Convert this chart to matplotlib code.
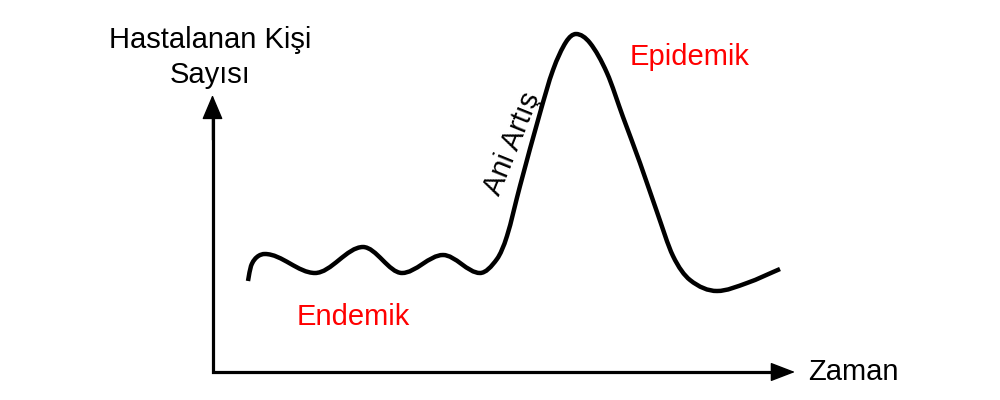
import numpy as np
import matplotlib.pyplot as plt
from matplotlib.path import Path
from matplotlib.patches import PathPatch

plt.rcParams['font.family'] = ['Liberation Sans', 'DejaVu Sans']

# Sketch curve (x = time, y = level, pixel units, y grows down)
curve_x = [248, 251, 257, 265, 315, 363, 402, 443, 480, 497, 507, 520, 540, 553,
           566, 576, 590, 607, 623, 640, 657, 673, 690, 717, 747, 780]
curve_y = [281, 266, 257, 254, 273, 247, 273, 255, 273, 259, 236, 186, 113, 70,
           42, 34, 43, 73, 117, 163, 212, 256, 280, 291, 283, 269]

y_label = ['Hastalanan Kişi', 'Sayısı']
x_label = 'Zaman'
low_label = 'Endemik'
high_label = 'Epidemik'
rise_label = 'Ani Artış'


def smooth_path(xs, ys):
    # cubic hermite through the points (flat at turning points), as bezier segments
    x = np.asarray(xs, float)
    y = np.asarray(ys, float)
    h = np.diff(x)
    d = np.diff(y) / h
    m = np.zeros_like(x)
    m[0], m[-1] = d[0], d[-1]
    for k in range(1, len(x) - 1):
        if d[k - 1] * d[k] > 0:
            m[k] = (y[k + 1] - y[k - 1]) / (x[k + 1] - x[k - 1])
    verts = [(x[0], y[0])]
    codes = [Path.MOVETO]
    for k in range(len(x) - 1):
        verts += [(x[k] + h[k] / 3, y[k] + m[k] * h[k] / 3),
                  (x[k + 1] - h[k] / 3, y[k + 1] - m[k + 1] * h[k] / 3),
                  (x[k + 1], y[k + 1])]
        codes += [Path.CURVE4] * 3
    return Path(verts, codes)


fig = plt.figure(figsize=(10, 4), dpi=100)
ax = fig.add_axes([0, 0, 1, 1])
ax.set_xlim(0, 1000)
ax.set_ylim(400, 0)
ax.axis('off')

# axes with arrow heads
ax.plot([212.5, 212.5, 775], [110, 372, 372], color='black', lw=2.3,
        solid_joinstyle='miter', solid_capstyle='butt')
ax.annotate('', xy=(212.5, 95), xytext=(212.5, 140),
            arrowprops=dict(arrowstyle='-|>,head_length=1.3,head_width=0.55',
                            color='black', lw=1, mutation_scale=12,
                            shrinkA=0, shrinkB=0))
ax.annotate('', xy=(795, 372), xytext=(750, 372),
            arrowprops=dict(arrowstyle='-|>,head_length=1.3,head_width=0.5',
                            color='black', lw=1, mutation_scale=12,
                            shrinkA=0, shrinkB=0))

ax.add_patch(PathPatch(smooth_path(curve_x, curve_y), fill=False, lw=3.2,
                       edgecolor='black', capstyle='butt', joinstyle='round'))

ax.text(210.5, 48, y_label[0], ha='center', va='baseline', fontsize=21)
ax.text(210.5, 83, y_label[1], ha='center', va='baseline', fontsize=21)
ax.text(808, 380, x_label, ha='left', va='baseline', fontsize=21)
ax.text(353, 325, low_label, ha='center', va='baseline', fontsize=21, color='#ff0000')
ax.text(690, 65, high_label, ha='center', va='baseline', fontsize=21, color='#ff0000')
ax.text(499, 197, rise_label, ha='left', va='baseline', fontsize=21,
        rotation=68, rotation_mode='anchor')

fig.savefig('out.png', dpi=100)
